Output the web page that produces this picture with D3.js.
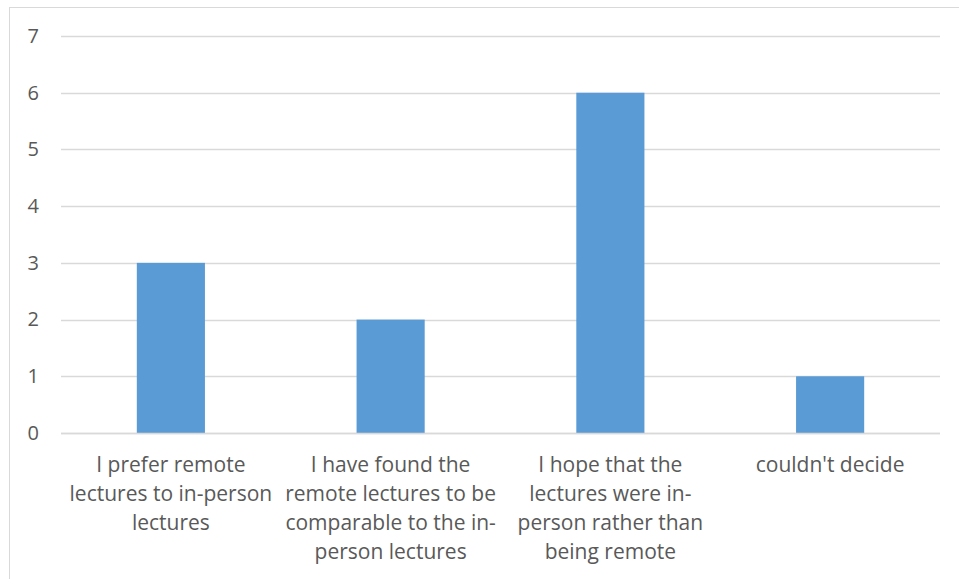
<!DOCTYPE html>
<html>
<head>
    <meta charset="utf-8">
    <script src="https://cdn.jsdelivr.net/npm/d3@7"></script>
    <style>
        body { margin: 0; background: #fff; }
        text { font-family: "Open Sans", sans-serif; fill: #595959; }
    </style>
</head>
<body>
    <div id="chart"></div>
    <script>
        // survey answers and counts
        var categories = [
            "I prefer remote lectures to in-person lectures",
            "I have found the remote lectures to be comparable to the in-person lectures",
            "I hope that the lectures were in-person rather than being remote",
            "couldn't decide"
        ];
        var labelLines = [
            ["I prefer remote", "lectures to in-person", "lectures"],
            ["I have found the", "remote lectures to be", "comparable to the in-", "person lectures"],
            ["I hope that the", "lectures were in-", "person rather than", "being remote"],
            ["couldn't decide"]
        ];
        var counts = [3, 2, 6, 1];
        var yTicks = [0, 1, 2, 3, 4, 5, 6, 7];

        var width = 959, height = 579;
        var margin = { top: 36, right: 19, bottom: 146, left: 61 };

        var svg = d3.select("#chart").append("svg")
            .attr("width", width)
            .attr("height", height);

        // chart frame
        svg.append("rect")
            .attr("x", 9.5).attr("y", 7.5)
            .attr("width", 960).attr("height", 600)
            .attr("fill", "none")
            .attr("stroke", "#d9d9d9");

        var x = d3.scaleBand()
            .domain(categories)
            .range([margin.left, width - margin.right])
            .paddingInner(0.69)
            .paddingOuter(0.345);

        var y = d3.scaleLinear()
            .domain([0, 7])
            .range([height - margin.bottom, margin.top]);

        // gridlines
        svg.append("g")
            .selectAll("line")
            .data(yTicks)
            .join("line")
            .attr("x1", margin.left)
            .attr("x2", width - margin.right)
            .attr("y1", d => Math.round(y(d)) + 0.5)
            .attr("y2", d => Math.round(y(d)) + 0.5)
            .attr("stroke", "#d9d9d9")
            .attr("stroke-width", 1.5);

        // y axis labels
        var yAxis = svg.append("g")
            .attr("transform", "translate(" + (margin.left - 22) + ",0)")
            .call(d3.axisLeft(y).tickValues(yTicks).tickFormat(d3.format("d")).tickSize(0).tickPadding(0));
        yAxis.select(".domain").remove();
        yAxis.selectAll("text")
            .style("font-size", "20px")
            .attr("fill", "#595959");

        // bars
        svg.append("g")
            .selectAll("rect")
            .data(counts)
            .join("rect")
            .attr("x", (d, i) => x(categories[i]))
            .attr("width", x.bandwidth())
            .attr("y", d => y(d))
            .attr("height", d => y(0) - y(d))
            .attr("fill", "#5b9bd5");

        // redraw baseline on top of the bars
        svg.append("line")
            .attr("x1", margin.left)
            .attr("x2", width - margin.right)
            .attr("y1", Math.round(y(0)) + 0.5)
            .attr("y2", Math.round(y(0)) + 0.5)
            .attr("stroke", "#d9d9d9")
            .attr("stroke-width", 1.5);

        // category labels
        var label = svg.append("g")
            .selectAll("text")
            .data(categories)
            .join("text")
            .attr("x", d => x(d) + x.bandwidth() / 2)
            .attr("y", 472)
            .attr("text-anchor", "middle")
            .style("font-size", "21px");

        label.selectAll("tspan")
            .data((d, i) => labelLines[i])
            .join("tspan")
            .attr("x", function () { return this.parentNode.getAttribute("x"); })
            .attr("dy", (d, i) => i === 0 ? 0 : 29)
            .text(d => d);
    </script>
</body>
</html>
